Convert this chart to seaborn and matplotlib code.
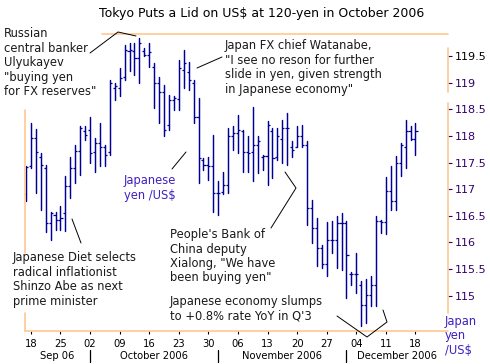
import pandas as pd
import seaborn as sns
import matplotlib.pyplot as plt
from matplotlib.lines import Line2D
from matplotlib.transforms import blended_transform_factory

# Daily OHLC for yen per US$, 18 Sep - 18 Dec 2006 (6 sessions a week)
opens = [116.90, 117.43, 117.96, 117.60, 117.40, 116.36, 116.52, 116.43, 116.55, 117.05,
         117.40, 117.71, 118.10, 118.11, 117.70, 117.86, 117.80, 117.70, 118.90, 118.90,
         119.10, 119.60, 119.60, 119.46, 119.60, 119.52, 119.30, 118.99, 118.83, 118.20,
         118.68, 118.70, 119.24, 119.20, 119.00, 118.36, 117.55, 117.46, 117.43, 116.93,
         116.95, 117.08, 117.99, 118.05, 118.10, 117.70, 117.70, 117.83, 117.60, 117.62,
         118.10, 117.60, 117.95, 118.15, 117.80, 117.80, 118.00, 117.83, 116.65, 116.27,
         115.90, 115.60, 116.05, 116.05, 116.37, 116.37, 115.40, 115.40, 115.20, 114.83,
         115.02, 115.21, 116.40, 116.39, 116.96, 116.77, 117.50, 117.80, 118.10, 117.95]
highs = [117.44, 118.25, 118.12, 117.68, 117.46, 116.58, 116.57, 116.68, 117.24, 117.60,
         117.83, 118.18, 118.18, 118.35, 117.96, 118.24, 117.83, 119.05, 118.99, 119.27,
         119.71, 119.74, 119.74, 119.83, 119.65, 119.74, 119.37, 119.11, 118.96, 118.77,
         118.74, 119.42, 119.61, 119.39, 119.05, 118.71, 117.58, 117.61, 118.02, 117.15,
         117.33, 118.15, 118.18, 118.40, 118.11, 117.99, 118.55, 117.99, 117.65, 118.27,
         118.15, 118.15, 118.30, 118.43, 117.90, 118.18, 118.21, 117.90, 116.80, 116.46,
         115.96, 116.38, 116.40, 116.49, 116.55, 116.40, 115.44, 115.80, 115.27, 115.32,
         115.38, 116.49, 116.43, 117.22, 117.43, 117.62, 117.86, 118.30, 118.18, 118.24]
lows = [116.77, 117.40, 116.93, 116.61, 116.19, 116.04, 116.24, 116.24, 116.21, 116.83,
        117.11, 117.27, 117.93, 117.49, 117.33, 117.43, 117.43, 117.65, 118.68, 118.74,
        119.05, 119.21, 119.15, 118.99, 119.49, 119.30, 118.52, 118.24, 117.99, 118.11,
        118.49, 118.49, 118.89, 118.86, 118.24, 117.11, 117.36, 117.18, 116.58, 116.52,
        116.90, 116.93, 117.74, 117.68, 117.33, 117.33, 117.15, 117.30, 117.36, 117.08,
        117.21, 117.55, 117.49, 117.46, 117.61, 117.80, 117.80, 116.33, 115.99, 115.55,
        115.52, 115.37, 115.80, 115.52, 115.49, 114.96, 115.21, 115.06, 114.43, 114.49,
        114.80, 114.80, 116.18, 116.15, 116.61, 116.61, 117.24, 117.40, 117.93, 117.65]
closes = [117.42, 117.96, 117.70, 117.45, 116.36, 116.56, 116.43, 116.45, 117.05, 117.40,
          117.71, 118.15, 118.02, 117.68, 117.86, 117.80, 117.65, 118.99, 118.93, 119.08,
          119.61, 119.61, 119.46, 119.74, 119.52, 119.58, 118.99, 118.83, 118.11, 118.68,
          118.71, 119.27, 119.37, 119.05, 118.36, 117.58, 117.46, 117.43, 116.93, 116.93,
          117.08, 117.99, 118.05, 118.11, 117.70, 117.68, 117.83, 117.90, 117.62, 118.20,
          117.58, 118.00, 118.15, 118.15, 117.74, 117.99, 117.83, 116.65, 116.27, 115.90,
          115.60, 116.05, 116.05, 116.37, 116.37, 115.77, 115.40, 115.40, 114.83, 115.02,
          115.21, 116.40, 116.39, 116.96, 116.77, 117.50, 117.83, 118.10, 117.95, 118.10]

day_labels = ["18", "25", "02", "09", "16", "23", "30", "06", "13", "20", "27", "04", "11", "18"]
month_labels = ["Sep 06", "October 2006", "November 2006", "December 2006"]
month_breaks = [13, 39, 65]          # session index where a new month starts
y_ticks = [115, 115.5, 116, 116.5, 117, 117.5, 118, 118.5, 119, 119.5]
sessions_per_week = 6
first_monday = 1

W, H = 490, 364
bar_color = "#000099"
frame_color = "#ffc890"
label_color = "#330066"
blue_text = "#4020c0"
text_color = "#1a1a1a"

sns.set_theme(style="white")
plt.rcParams["font.family"] = ["DejaVu Sans"]

pos = list(range(len(opens)))
ranges = pd.DataFrame({"pos": pos + pos, "price": lows + highs})

fig = plt.figure(figsize=(W / 100, H / 100), dpi=100)
ax = fig.add_axes([25 / W, 1 - 331 / H, 423 / W, 297 / H])

# high-low lines, one unit per session
sns.lineplot(data=ranges, x="pos", y="price", units="pos", estimator=None,
             color=bar_color, lw=1.05, ax=ax, legend=False)
# open ticks to the left, close ticks to the right
ax.hlines(opens, [p - 0.42 for p in pos], pos, color=bar_color, lw=0.9)
ax.hlines(closes, pos, [p + 0.42 for p in pos], color=bar_color, lw=0.9)

x_lo, x_hi = -0.2, 85.6
ax.set_xlim(x_lo, x_hi)
ax.set_ylim(114.34, 119.91)
ax.set_xlabel("")
ax.set_ylabel("")
for s in ax.spines.values():
    s.set_visible(False)

# x axis: Mondays
ax.set_xticks([first_monday + sessions_per_week * k for k in range(len(day_labels))])
ax.set_xticklabels(day_labels)
ax.tick_params(axis="x", direction="out", length=2, width=0.8, color="black",
               labelsize=7.2, labelcolor="black", pad=3.5, bottom=True)

# y axis on the right
ax.yaxis.tick_right()
ax.set_yticks(y_ticks)
ax.set_yticklabels([f"{v:g}" for v in y_ticks])
ax.tick_params(axis="y", direction="out", length=3, width=0.8, color=label_color,
               labelsize=8, labelcolor=label_color, pad=2, right=True)
ax.get_yticklabels()[-1].set_color("black")


# frame, with the gaps left by the note boxes
def frame(xs, ys):
    fx = [(x - 25) / 423 for x in xs]
    fy = [(331 - y) / 297 for y in ys]
    ax.plot(fx, fy, color=frame_color, lw=1.2, transform=ax.transAxes, clip_on=False)


frame([25, 25], [110, 253])
frame([25, 25], [313, 331])
frame([25, 448], [331, 331])
frame([102, 448], [34, 34])
frame([448, 448], [48, 92])
frame([448, 448], [103, 313])

# month row
blend = blended_transform_factory(ax.transData, ax.transAxes)
edges = [x_lo] + month_breaks + [x_hi]
for b in month_breaks:
    ax.plot([b, b], [-0.064, -0.104], color="black", lw=0.9, transform=blend, clip_on=False)
for name, a, b in zip(month_labels, edges[:-1], edges[1:]):
    ax.text((a + b) / 2, -0.085, name, transform=blend, ha="center", va="center",
            fontsize=7.2, color="black")


def note(x, y, s, color=text_color, size=8.3):
    fig.text(x / W, 1 - y / H, s, ha="left", va="top", fontsize=size, color=color,
             linespacing=1.15)


def leader(xs, ys):
    fig.add_artist(Line2D([x / W for x in xs], [1 - y / H for y in ys],
                          transform=fig.transFigure, color="black", lw=0.7))


fig.text(262 / W, 1 - 14 / H, "Tokyo Puts a Lid on US$ at 120-yen in October 2006",
         ha="center", va="center", fontsize=9, color="black")

note(4, 27, 'Russian\ncentral banker\nUlyukayev\n"buying yen\nfor FX reserves"')
leader([90, 118, 136], [53, 32, 36])

note(225, 39, 'Japan FX chief Watanabe,\n"I see no reson for further\nslide in yen, given strength\nin Japanese economy"')
leader([197, 222], [68, 57])

note(124, 174, "Japanese\nyen /US$", color=blue_text)
leader([172, 186], [169, 152])

note(13, 251, "Japanese Diet selects\nradical inflationist\nShinzo Abe as next\nprime minister")
leader([72, 81], [219, 243])

note(170, 228, "People's Bank of\nChina deputy\nXialong, \"We have\nbeen buying yen\"")
leader([285, 296, 271], [172, 188, 228])

note(170, 295, "Japanese economy slumps\nto +0.8% rate YoY in Q'3")
leader([337, 367, 387, 383], [316, 337, 322, 310])

note(445, 315, "Japan\nyen\n/US$", color=blue_text)

fig.savefig("out.png", dpi=100)
